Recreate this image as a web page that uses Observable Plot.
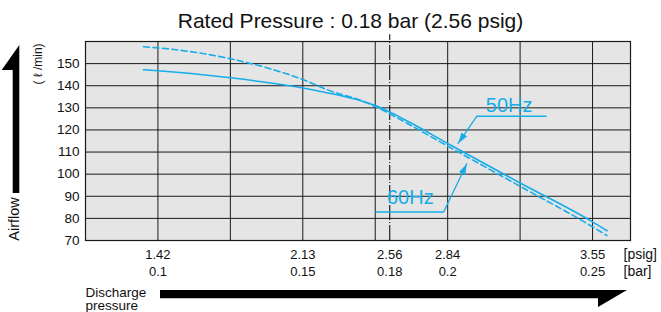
<!DOCTYPE html>
<html>
<head>
<meta charset="utf-8">
<script src="https://cdn.jsdelivr.net/npm/d3@7"></script>
<script src="https://cdn.jsdelivr.net/npm/@observablehq/plot@0.6"></script>
<style>
  html, body { margin: 0; padding: 0; background: #fff; }
</style>
</head>
<body>
<div id="chart"></div>
<script>
// ---- data ----
const barPoints = [0.095, 0.1, 0.125, 0.15, 0.16, 0.17, 0.175, 0.1875, 0.2, 0.225, 0.25, 0.255];
const flow50Hz  = [147.2, 146.8, 143.6, 139.0, 136.4, 133.2, 131.0, 123.0, 113.9, 96.0, 78.4, 74.4];
const flow60Hz  = [157.6, 157.1, 152.2, 142.8, 137.4, 133.4, 130.6, 121.9, 112.7, 94.5, 76.2, 72.2];

const xTickBar  = [0.1, 0.15, 0.18, 0.2, 0.25];
const xTickPsig = ["1.42", "2.13", "2.56", "2.84", "3.55"];
const xTickBarLabel = ["0.1", "0.15", "0.18", "0.2", "0.25"];
const xGrid = [0.1, 0.125, 0.15, 0.175, 0.2, 0.225, 0.25];
const yTicks = [70, 80, 90, 100, 110, 120, 130, 140, 150];
const yGrid = [80, 90, 100, 110, 120, 130, 140, 150];
const ratedBar = 0.18;

// series labels and their leader lines (annotation positions in data units)
const hzLabels = ["50Hz", "60Hz"];
const hzLabelBar = [0.2212, 0.1871];
const hzLabelFlow = [131.2, 89.4];
const leader50Bar = [0.234, 0.2101, 0.2036];
const leader50Flow = [126.2, 126.2, 113.9];
const leader60Bar = [0.1753, 0.1986, 0.2066];
const leader60Flow = [82.9, 82.9, 104.7];

const title = "Rated Pressure : 0.18 bar (2.56 psig)";
const cyan = "#16ade8";

// ---- tables ----
const s50 = barPoints.map((b, i) => ({bar: b, flow: flow50Hz[i]}));
const s60 = barPoints.map((b, i) => ({bar: b, flow: flow60Hz[i]}));
const xTickRows = xTickBar.map((b, i) => ({bar: b, label: xTickPsig[i] + "\n" + xTickBarLabel[i]}));
const labels = hzLabels.map((t, i) => ({text: t, bar: hzLabelBar[i], flow: hzLabelFlow[i]}));
const leaders = [
  ...leader50Bar.map((b, i) => ({bar: b, flow: leader50Flow[i], k: "50"})),
  ...leader60Bar.map((b, i) => ({bar: b, flow: leader60Flow[i], k: "60"}))
];

function filledHead(color) {
  const m = d3.create("svg:marker")
    .attr("viewBox", "-11 -3.5 11 7")
    .attr("markerWidth", 11)
    .attr("markerHeight", 7)
    .attr("markerUnits", "userSpaceOnUse")
    .attr("orient", "auto")
    .attr("refX", 0).attr("refY", 0)
    .attr("fill", color).attr("stroke", "none");
  m.append("path").attr("d", "M-11,-3.5L0,0L-11,3.5Z");
  return m.node();
}

const chart = Plot.plot({
  width: 661,
  height: 312,
  marginLeft: 85,
  marginRight: 31,
  marginTop: 41,
  marginBottom: 72,
  style: {fontFamily: "'Liberation Sans', Arial, Helvetica, sans-serif", background: "#fff", color: "#111", overflow: "visible"},
  x: {domain: [0.075, 0.2631], axis: null},
  y: {domain: [70, 160], axis: null},
  marks: [
    Plot.frame({fill: "#e5e5e5"}),
    Plot.ruleY(yGrid, {stroke: "#1a1a1a", strokeWidth: 1}),
    Plot.ruleX(xGrid, {stroke: "#1a1a1a", strokeWidth: 1}),
    Plot.ruleX([ratedBar], {y1: 70, y2: 163, stroke: "#111", strokeWidth: 1.1, strokeDasharray: "15,2,1,2"}),
    Plot.frame({stroke: "#1a1a1a", strokeWidth: 1.2}),
    Plot.line(s60, {x: "bar", y: "flow", stroke: cyan, strokeWidth: 1.6, strokeDasharray: "6,3.5", curve: "monotone-x"}),
    Plot.line(s50, {x: "bar", y: "flow", stroke: cyan, strokeWidth: 1.6, curve: "monotone-x"}),
    Plot.line(leaders, {x: "bar", y: "flow", z: "k", stroke: cyan, strokeWidth: 1.3, markerEnd: filledHead}),
    Plot.text(labels, {x: "bar", y: "flow", text: "text", fill: cyan, fontSize: 20, textAnchor: "middle", lineAnchor: "middle"}),
    Plot.axisY(yTicks, {tickSize: 0, tickPadding: 6, fontSize: 13.5, label: null}),
    Plot.text(xTickRows, {x: "bar", text: "label", frameAnchor: "bottom", lineAnchor: "top", dy: 6.7, fontSize: 13, lineHeight: 1.28, fill: "#111"}),
    Plot.text(["[psig]\n[bar]"], {frameAnchor: "bottom-right", textAnchor: "start", lineAnchor: "top", dx: -7, dy: 6.7, fontSize: 14, lineHeight: 1.19, fill: "#111"}),
    Plot.text([title], {frameAnchor: "top", lineAnchor: "bottom", dx: -7.5, dy: -13.3, fontSize: 21, fill: "#111"}),
    Plot.text(["Discharge\npressure"], {frameAnchor: "bottom-left", textAnchor: "start", lineAnchor: "top", dy: 46.5, fontSize: 13.5, lineHeight: 1.0, fill: "#111"}),
    Plot.text(["( ℓ /min)"], {frameAnchor: "top-left", rotate: -90, textAnchor: "middle", lineAnchor: "middle", dx: -47.5, dy: 22.5, fontSize: 12, fill: "#111"}),
    Plot.text(["Airflow"], {frameAnchor: "bottom-left", rotate: -90, textAnchor: "middle", lineAnchor: "middle", dx: -71, dy: -21.5, fontSize: 14.5, fill: "#111"})
  ]
});

// decorative direction arrows
const svg = d3.select(chart);
svg.append("path").attr("d", "M19.3,45L19.3,193L12.7,193L12.7,70L1.7,70Z").attr("fill", "#000");
svg.append("path").attr("d", "M160,290L627,290L598,307L598,298.3L160,298.3Z").attr("fill", "#000");

document.getElementById("chart").appendChild(chart);
</script>
</body>
</html>
